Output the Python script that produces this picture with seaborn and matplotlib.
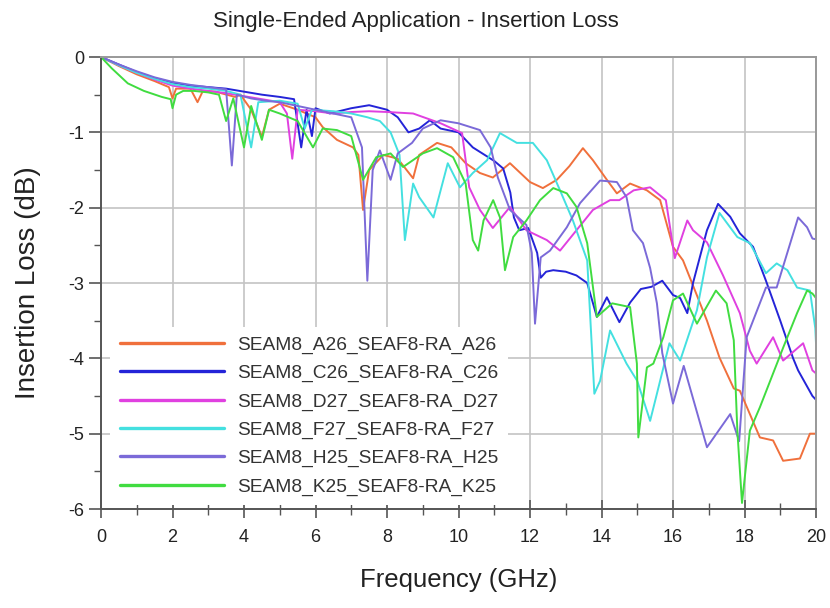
import matplotlib
matplotlib.use("Agg")
import matplotlib.pyplot as plt
from matplotlib.ticker import MultipleLocator
import seaborn as sns
import pandas as pd

# ---------------- data ----------------
series_names = ["SEAM8_A26_SEAF8-RA_A26", "SEAM8_C26_SEAF8-RA_C26",
                "SEAM8_D27_SEAF8-RA_D27", "SEAM8_F27_SEAF8-RA_F27",
                "SEAM8_H25_SEAF8-RA_H25", "SEAM8_K25_SEAF8-RA_K25"]

a26_f = [0, 0.5, 1.0, 1.5, 1.9, 2.0, 2.1, 2.5, 2.7, 2.85, 3.2, 3.75, 3.9, 4.2, 4.5, 4.7,
         5.0, 5.5, 6.0, 6.2, 6.6, 7.05, 7.2, 7.33, 7.5, 7.9, 8.3, 8.73, 8.9, 9.4, 9.8, 10.2,
         10.6, 10.96, 11.44, 12.0, 12.36, 12.75, 13.1, 13.48, 13.76, 14.15, 14.43, 14.8,
         15.27, 15.64, 16.0, 16.28, 16.95, 17.3, 17.7, 17.87, 18.43, 18.8, 19.08, 19.55,
         19.83, 20.0]
a26_db = [0, -0.12, -0.23, -0.32, -0.4, -0.55, -0.42, -0.42, -0.6, -0.45, -0.46, -0.53,
          -0.5, -0.7, -1.06, -0.7, -0.62, -0.7, -0.8, -0.93, -1.1, -1.2, -1.3, -2.03, -1.5,
          -1.3, -1.35, -1.61, -1.3, -1.14, -1.2, -1.41, -1.54, -1.6, -1.41, -1.66, -1.74,
          -1.63, -1.45, -1.21, -1.37, -1.63, -1.81, -1.68, -1.77, -1.9, -2.52, -2.7, -3.5,
          -3.99, -4.4, -4.43, -5.05, -5.09, -5.36, -5.33, -5.0, -5.0]

c26_f = [0, 0.5, 1.0, 1.5, 2.0, 2.5, 3.0, 3.5, 4.0, 4.5, 5.0, 5.4, 5.6, 5.75, 5.9, 6.0,
         6.4, 7.0, 7.5, 8.0, 8.3, 8.6, 8.9, 9.2, 9.5, 9.7, 10.0, 10.4, 10.6, 11.0, 11.25,
         11.45, 11.55, 11.7, 11.95, 12.2, 12.3, 12.45, 12.65, 13.0, 13.3, 13.6, 13.87,
         14.15, 14.5, 14.8, 15.1, 15.4, 15.7, 16.0, 16.2, 16.4, 16.56, 16.95, 17.26, 17.6,
         17.87, 18.24, 18.6, 19.0, 19.36, 19.5, 19.9, 20.0]
c26_db = [0, -0.1, -0.2, -0.28, -0.34, -0.38, -0.4, -0.42, -0.46, -0.5, -0.53, -0.56,
          -1.2, -0.7, -1.05, -0.68, -0.75, -0.68, -0.64, -0.7, -0.8, -1.0, -0.95, -0.84,
          -0.95, -0.97, -1.0, -1.2, -1.26, -1.38, -1.48, -1.8, -2.13, -2.3, -2.27, -2.6,
          -2.93, -2.85, -2.83, -2.85, -2.9, -3.0, -3.45, -3.19, -3.52, -3.26, -3.08, -3.05,
          -2.97, -3.16, -3.2, -3.4, -3.0, -2.3, -1.95, -2.12, -2.34, -2.52, -2.97, -3.5,
          -4.0, -4.16, -4.5, -4.55]

d27_f = [0, 0.5, 1.0, 1.5, 2.0, 2.5, 3.0, 3.5, 4.0, 4.5, 5.0, 5.2, 5.35, 5.5, 6.0, 6.5,
         7.0, 7.5, 8.0, 8.73, 9.5, 10.1, 10.3, 10.6, 10.96, 11.44, 11.9, 12.47, 12.84,
         13.3, 13.76, 14.24, 14.5, 14.9, 15.36, 15.8, 16.05, 16.4, 16.56, 16.95, 17.4,
         17.87, 18.15, 18.34, 18.8, 19.08, 19.64, 19.9, 20.0]
d27_db = [0, -0.11, -0.21, -0.3, -0.38, -0.42, -0.45, -0.48, -0.52, -0.56, -0.6, -0.75,
          -1.35, -0.7, -0.72, -0.75, -0.73, -0.72, -0.73, -0.75, -0.88, -1.01, -1.73, -2.03,
          -2.27, -1.99, -2.3, -2.43, -2.57, -2.3, -2.03, -1.9, -1.9, -1.77, -1.73, -1.9,
          -2.67, -2.17, -2.3, -2.46, -2.9, -3.4, -3.9, -4.07, -3.72, -4.03, -3.8, -4.16, -4.2]

f27_f = [0, 0.5, 1.0, 1.5, 2.0, 2.5, 3.0, 3.5, 3.9, 4.2, 4.4, 5.0, 5.5, 5.7, 5.9, 6.5,
         7.0, 7.45, 7.8, 8.1, 8.35, 8.5, 8.73, 8.9, 9.3, 9.7, 10.04, 10.4, 10.8, 11.16,
         11.63, 12.08, 12.47, 12.84, 13.2, 13.6, 13.8, 13.96, 14.24, 14.7, 15.0, 15.36,
         15.55, 15.9, 16.2, 16.67, 16.95, 17.3, 17.8, 18.15, 18.6, 18.9, 19.2, 19.47,
         19.83, 19.98, 20.0]
f27_db = [0, -0.11, -0.21, -0.29, -0.36, -0.4, -0.42, -0.45, -0.5, -1.2, -0.6, -0.58,
          -0.62, -0.95, -0.7, -0.72, -0.75, -0.8, -0.85, -1.0, -1.3, -2.43, -1.68, -1.86,
          -2.13, -1.41, -1.73, -1.54, -1.37, -1.01, -1.14, -1.14, -1.37, -1.77, -2.17,
          -2.7, -4.47, -4.3, -3.63, -4.07, -4.3, -4.83, -4.47, -3.8, -4.03, -3.36, -2.66,
          -2.07, -2.39, -2.47, -2.87, -2.74, -2.83, -3.06, -3.1, -3.6, -3.8]

h25_f = [0, 0.5, 1.0, 1.5, 2.0, 2.5, 3.0, 3.5, 3.66, 3.8, 4.2, 4.6, 5.0, 5.5, 6.0, 6.5,
         7.0, 7.3, 7.45, 7.6, 7.8, 8.1, 8.3, 8.7, 9.0, 9.5, 10.0, 10.6, 10.9, 11.1, 11.44,
         11.9, 12.05, 12.14, 12.3, 12.56, 13.03, 13.4, 13.96, 14.43, 14.7, 14.88, 15.16,
         15.36, 15.55, 15.7, 16.0, 16.3, 16.95, 17.6, 17.85, 18.06, 18.6, 18.9, 19.5,
         19.75, 19.9, 20.0]
h25_db = [0, -0.1, -0.19, -0.27, -0.33, -0.37, -0.4, -0.43, -1.44, -0.5, -0.55, -0.58,
          -0.6, -0.65, -0.7, -0.75, -0.8, -1.2, -2.97, -1.5, -1.24, -1.63, -1.28, -1.14,
          -0.95, -0.84, -0.88, -0.97, -1.2, -1.6, -2.03, -2.23, -2.6, -3.54, -2.66, -2.57,
          -2.26, -1.94, -1.64, -1.66, -1.86, -2.3, -2.47, -2.8, -3.27, -3.93, -4.6, -4.1,
          -5.18, -4.74, -5.1, -3.72, -3.06, -3.06, -2.13, -2.26, -2.41, -2.42]

k25_f = [0, 0.3, 0.75, 1.2, 1.7, 1.95, 2.0, 2.1, 2.3, 2.6, 3.0, 3.3, 3.5, 3.7, 4.0, 4.2,
         4.5, 4.7, 5.0, 5.5, 5.93, 6.2, 6.6, 7.0, 7.33, 7.7, 8.1, 8.45, 9.0, 9.4, 9.85,
         10.2, 10.4, 10.55, 10.7, 10.97, 11.16, 11.3, 11.53, 11.9, 12.28, 12.65, 13.03,
         13.3, 13.6, 13.87, 14.3, 14.8, 14.99, 15.03, 15.27, 15.45, 15.73, 16.0, 16.28,
         16.67, 17.2, 17.5, 17.7, 17.8, 17.93, 18.15, 18.43, 18.8, 19.08, 19.47, 19.75,
         19.9, 20.0]
k25_db = [0, -0.15, -0.35, -0.45, -0.53, -0.56, -0.68, -0.5, -0.45, -0.45, -0.47, -0.5,
          -0.85, -0.55, -1.2, -0.65, -1.1, -0.7, -0.75, -0.85, -1.2, -0.95, -0.97, -1.05,
          -1.63, -1.33, -1.28, -1.46, -1.28, -1.21, -1.33, -1.68, -2.43, -2.57, -2.17,
          -1.9, -2.13, -2.83, -2.39, -2.17, -1.9, -1.74, -1.81, -1.99, -2.47, -3.45, -3.27,
          -3.32, -4.07, -5.05, -4.12, -4.07, -3.72, -3.23, -3.14, -3.54, -3.1, -3.27, -3.76,
          -4.96, -5.92, -4.96, -4.65, -4.2, -3.86, -3.4, -3.1, -3.14, -3.2]

x_ticks = [0, 2, 4, 6, 8, 10, 12, 14, 16, 18, 20]
y_ticks = [0, -1, -2, -3, -4, -5, -6]

colors = ["#f0703c", "#2424d8", "#e040e0", "#44e0e0", "#7b6ad8", "#40dc40"]

# ---------------- build frame ----------------
all_f = [a26_f, c26_f, d27_f, f27_f, h25_f, k25_f]
all_db = [a26_db, c26_db, d27_db, f27_db, h25_db, k25_db]
rows = []
for name, fs, dbs in zip(series_names, all_f, all_db):
    for f, d in zip(fs, dbs):
        rows.append((name, f, d))
df = pd.DataFrame(rows, columns=["series", "freq", "db"])
palette = dict(zip(series_names, colors))

sns.set_theme(style="white")
plt.rcParams["font.family"] = ["Liberation Sans", "DejaVu Sans"]
plt.rcParams["axes.unicode_minus"] = False

fig = plt.figure(figsize=(8.3, 6.08), dpi=100)
ax = fig.add_axes([101 / 830, 1 - 509 / 608, 715 / 830, 452 / 608])

sns.lineplot(data=df, x="freq", y="db", hue="series", hue_order=series_names,
             palette=palette, estimator=None, sort=False, linewidth=1.4, ax=ax)

ax.set_xlim(0, 20)
ax.set_ylim(-6, 0)
ax.set_xticks(x_ticks)
ax.set_yticks(y_ticks)
ax.set_xticklabels([str(t) for t in x_ticks])
ax.set_yticklabels([str(t) for t in y_ticks])
ax.xaxis.set_minor_locator(MultipleLocator(1))
ax.yaxis.set_minor_locator(MultipleLocator(0.5))
ax.grid(True, which="major", color="#c4c4c4", linewidth=1.2)
ax.set_axisbelow(True)

ax.tick_params(axis="x", which="major", direction="inout", length=13, width=1.2,
               color="#555555", labelsize=13, pad=8, labelcolor="#222222", bottom=True)
ax.tick_params(axis="x", which="minor", direction="inout", length=8, width=1.0,
               color="#555555", bottom=True)
ax.tick_params(axis="y", which="major", direction="out", length=9, width=1.2,
               color="#555555", labelsize=13, pad=3, labelcolor="#222222", left=True)
ax.tick_params(axis="y", which="minor", direction="out", length=5, width=1.0,
               color="#555555", left=True)

for side in ["left", "bottom"]:
    ax.spines[side].set_color("#555555")
    ax.spines[side].set_linewidth(1.4)
for side in ["top", "right"]:
    ax.spines[side].set_color("#999999")
    ax.spines[side].set_linewidth(1.4)

ax.set_xlabel("Frequency (GHz)", fontsize=18.5, color="#222222", labelpad=15.5)
ax.set_ylabel("Insertion Loss (dB)", fontsize=20, color="#222222", labelpad=20)
fig.text(416 / 830, 1 - 22 / 608, "Single-Ended Application - Insertion Loss",
         ha="center", va="center", fontsize=16, color="#222222")

handles, labels = ax.get_legend_handles_labels()
for h in handles:
    h.set_linewidth(2.4)
leg = ax.legend(handles, labels, loc="upper left", bbox_to_anchor=(0.0126, 0.403),
                fontsize=13.8, handlelength=5.45, handletextpad=0.68,
                labelspacing=0.56, borderpad=0.5, borderaxespad=0,
                frameon=True, fancybox=False)
leg.get_frame().set_facecolor("white")
leg.get_frame().set_edgecolor("none")
leg.get_frame().set_alpha(1.0)
for t in leg.get_texts():
    t.set_color("#333333")

fig.savefig("out.png", dpi=100)
